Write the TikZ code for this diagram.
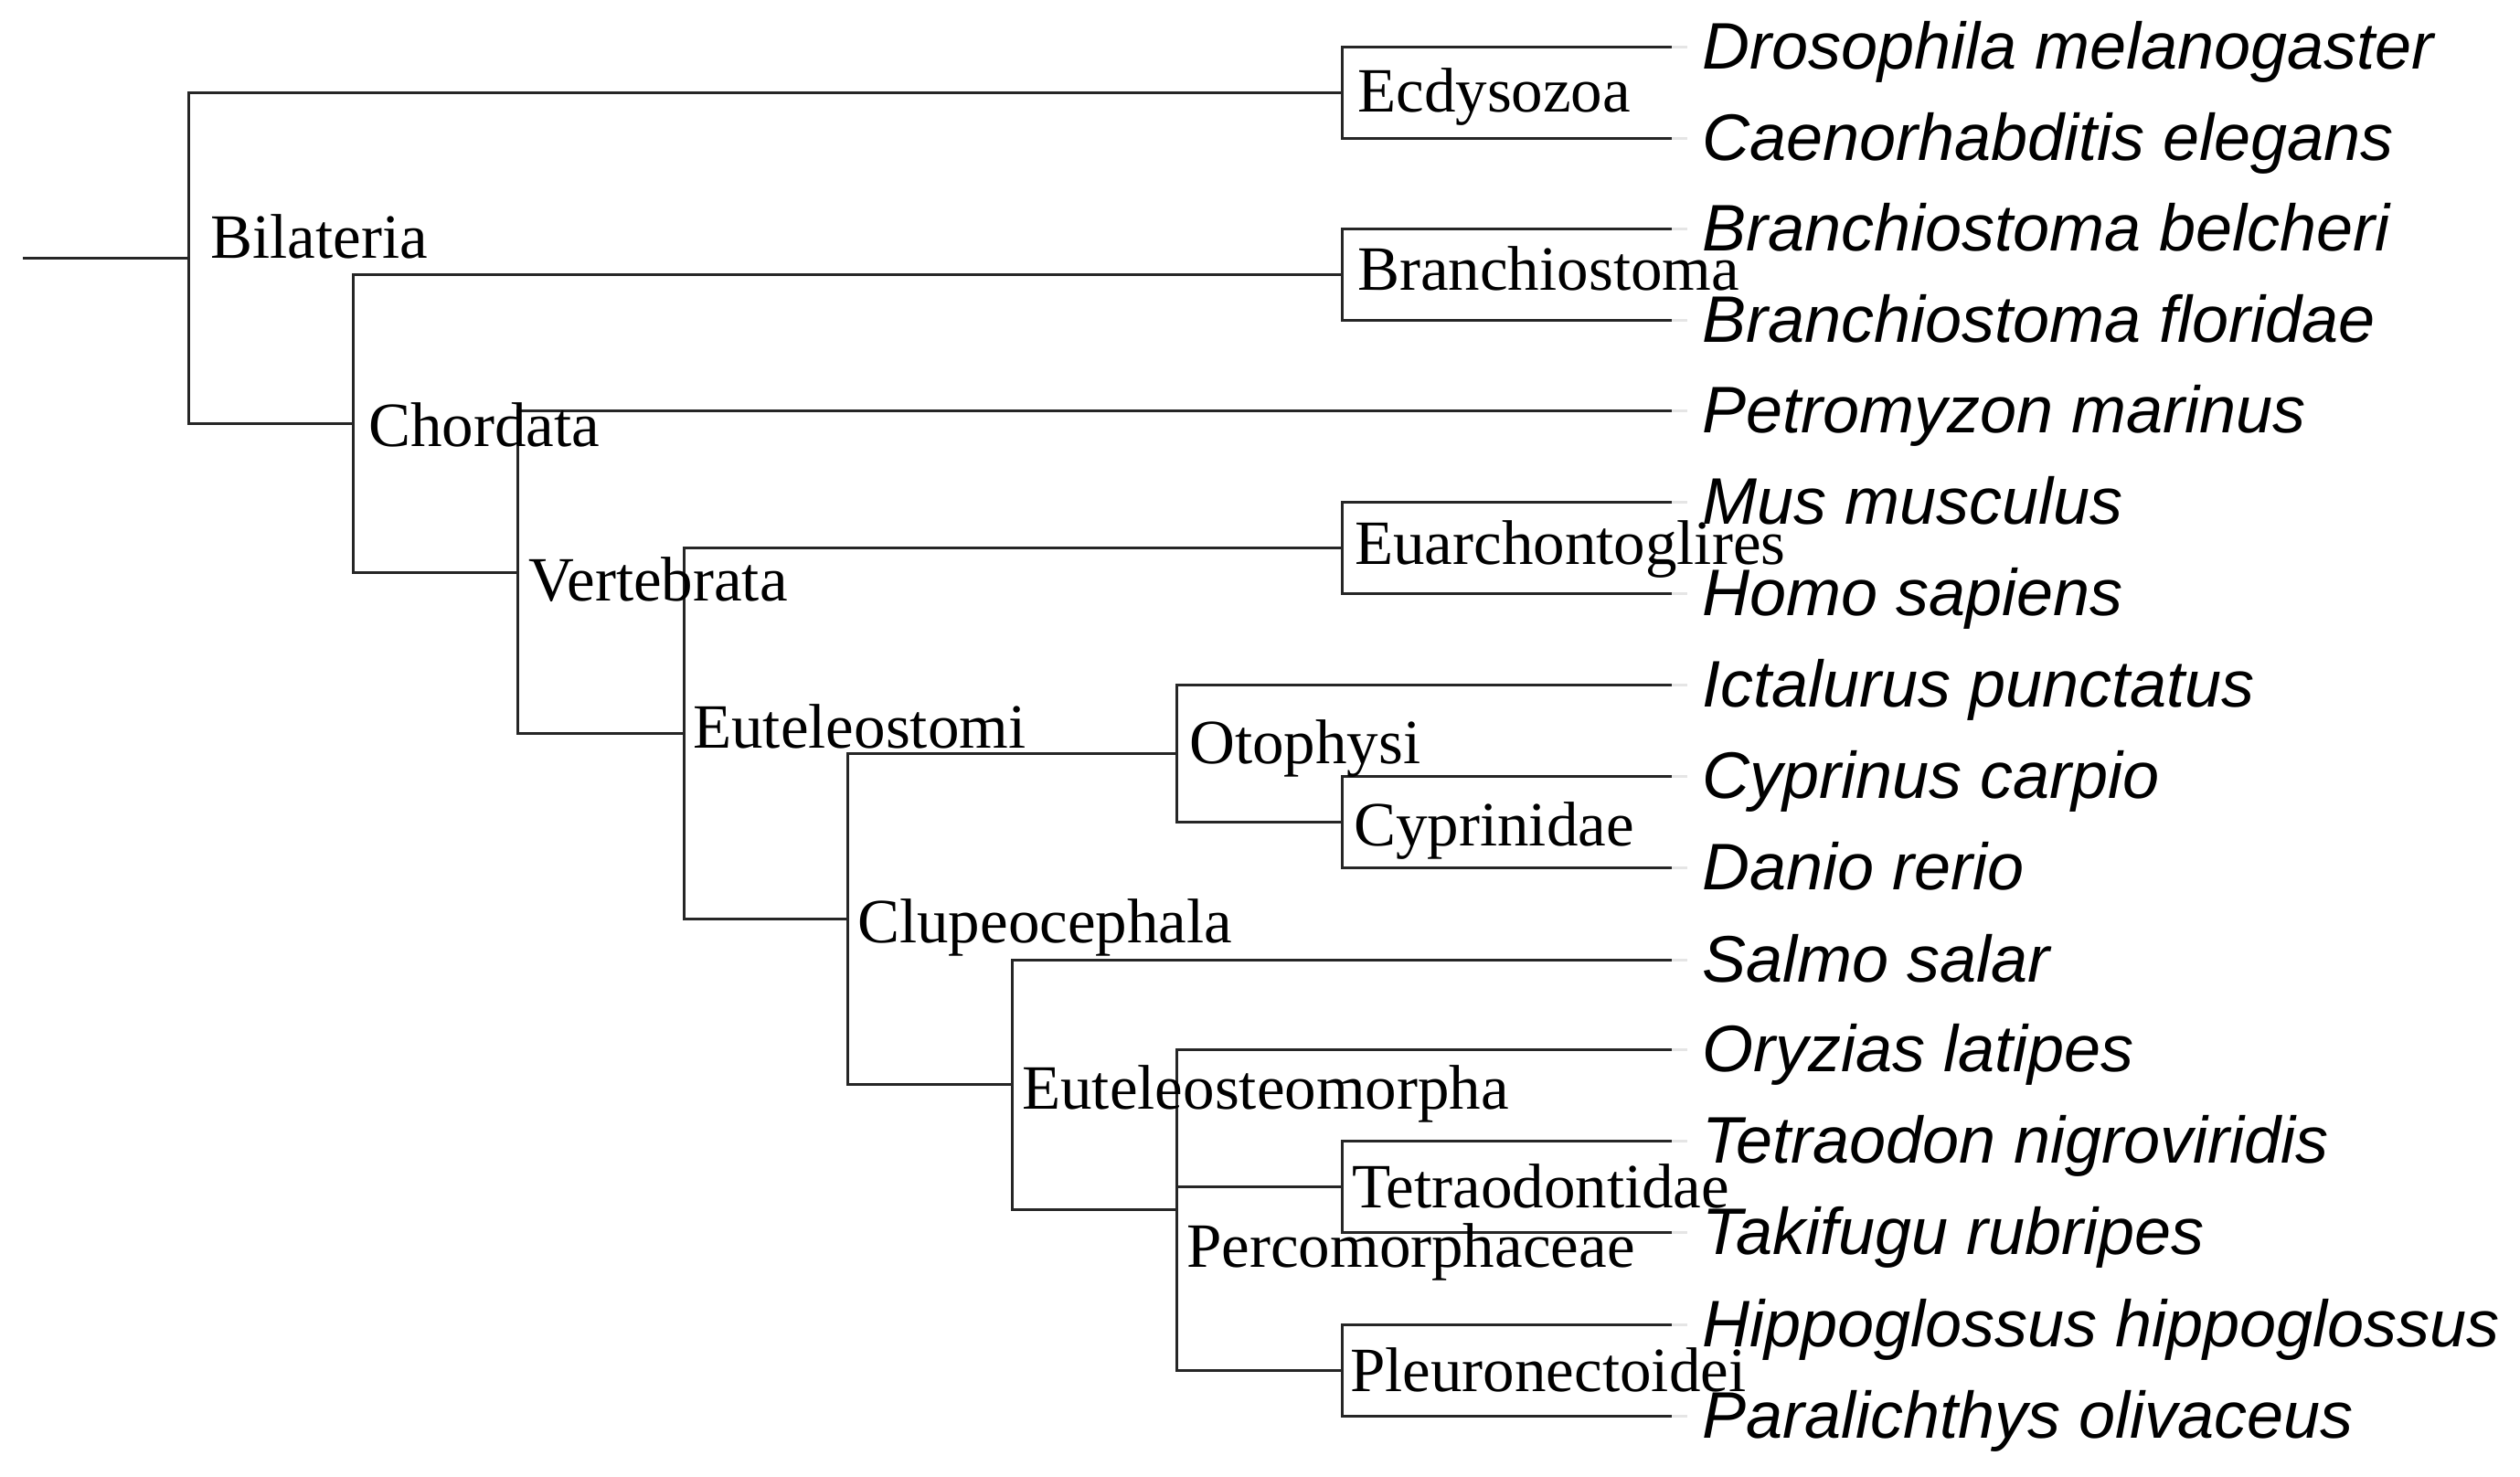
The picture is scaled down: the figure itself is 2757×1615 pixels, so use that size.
\documentclass[tikz,border=0pt]{standalone}
\usepackage{fontspec}
\setmainfont{Liberation Serif}
\newfontfamily\spfont{Liberation Sans}
\begin{document}
\begin{tikzpicture}[x=1pt,y=-1pt,
  br/.style={line width=3pt, draw=black!85, line join=miter},
  lead/.style={line width=3pt, draw=black!10},
  clade/.style={anchor=base west, inner sep=0pt, font=\fontsize{69}{80}\selectfont},
  sp/.style={anchor=base west, inner sep=0pt, font=\spfont\itshape\fontsize{72}{84}\selectfont}]
\useasboundingbox (0,0) rectangle (2757,1615);
% tips
\coordinate (t0) at (1829,51);
\coordinate (t1) at (1829,151);
\coordinate (t2) at (1829,250.5);
\coordinate (t3) at (1829,350.5);
\coordinate (t4) at (1829,449.5);
\coordinate (t5) at (1829,549.5);
\coordinate (t6) at (1829,649.5);
\coordinate (t7) at (1829,749);
\coordinate (t8) at (1829,849);
\coordinate (t9) at (1829,949);
\coordinate (t10) at (1829,1050);
\coordinate (t11) at (1829,1148);
\coordinate (t12) at (1829,1248);
\coordinate (t13) at (1829,1348);
\coordinate (t14) at (1829,1449);
\coordinate (t15) at (1829,1549);
% internal nodes
\coordinate (Ecd) at (1468,101);
\coordinate (Bra) at (1468,300.5);
\coordinate (Eua) at (1468,599.5);
\coordinate (Cyp) at (1468,899);
\coordinate (Tet) at (1468,1298);
\coordinate (Ple) at (1468,1499);
\coordinate (Oto) at (1287,824);
\coordinate (Per) at (1287,1323.5);
\coordinate (Eum) at (1107,1186.75);
\coordinate (Clu) at (927,1005.4);
\coordinate (Eut) at (748,802.45);
\coordinate (Ver) at (566,626);
\coordinate (Cho) at (386,463.25);
\coordinate (Bil) at (206,282.1);
\coordinate (root) at (25,282.1);
% branches
\draw[br] (root) -- (Bil);
\draw[br] (Bil) |- (Ecd);
\draw[br] (Bil) |- (Cho);
\draw[br] (Ecd) |- (t0);
\draw[br] (Ecd) |- (t1);
\draw[br] (Cho) |- (Bra);
\draw[br] (Cho) |- (Ver);
\draw[br] (Bra) |- (t2);
\draw[br] (Bra) |- (t3);
\draw[br] (Ver) |- (t4);
\draw[br] (Ver) |- (Eut);
\draw[br] (Eut) |- (Eua);
\draw[br] (Eut) |- (Clu);
\draw[br] (Eua) |- (t5);
\draw[br] (Eua) |- (t6);
\draw[br] (Clu) |- (Oto);
\draw[br] (Clu) |- (Eum);
\draw[br] (Oto) |- (t7);
\draw[br] (Oto) |- (Cyp);
\draw[br] (Cyp) |- (t8);
\draw[br] (Cyp) |- (t9);
\draw[br] (Eum) |- (t10);
\draw[br] (Eum) |- (Per);
\draw[br] (Per) |- (t11);
\draw[br] (Per) |- (Tet);
\draw[br] (Per) |- (Ple);
\draw[br] (Tet) |- (t12);
\draw[br] (Tet) |- (t13);
\draw[br] (Ple) |- (t14);
\draw[br] (Ple) |- (t15);
% faint leaders
\foreach \i in {0,...,15} \draw[lead] (t\i) -- ++(17,0);
% clade labels
\node[clade] (lBil) at (230,282) {Bilateria};
\node[clade] (lCho) at (403,488) {Chordata};
\node[clade] (lVer) at (578,657) {Vertebrata};
\node[clade] (lEut) at (758,818) {Euteleostomi};
\node[clade] (lClu) at (938,1031) {Clupeocephala};
\node[clade] (lEum) at (1118,1213) {Euteleosteomorpha};
\node[clade] (lOto) at (1301,835) {Otophysi};
\node[clade] (lPer) at (1298,1386) {Percomorphaceae};
\node[clade] (lEcd) at (1485,122) {Ecdysozoa};
\node[clade] (lBra) at (1485,317) {Branchiostoma};
\node[clade] (lEua) at (1482,617) {Euarchontoglires};
\node[clade] (lCyp) at (1481,925) {Cyprinidae};
\node[clade] (lTet) at (1479,1321) {Tetraodontidae};
\node[clade] (lPle) at (1477,1522) {Pleuronectoidei};
% species labels
\node[sp] (s0) at (1862,75) {Drosophila melanogaster};
\node[sp] (s1) at (1862,175) {Caenorhabditis elegans};
\node[sp] (s2) at (1862,274.5) {Branchiostoma belcheri};
\node[sp] (s3) at (1862,374.5) {Branchiostoma floridae};
\node[sp] (s4) at (1862,473.5) {Petromyzon marinus};
\node[sp] (s5) at (1862,573.5) {Mus musculus};
\node[sp] (s6) at (1862,673.5) {Homo sapiens};
\node[sp] (s7) at (1862,773) {Ictalurus punctatus};
\node[sp] (s8) at (1862,873) {Cyprinus carpio};
\node[sp] (s9) at (1862,973) {Danio rerio};
\node[sp] (s10) at (1862,1074) {Salmo salar};
\node[sp] (s11) at (1862,1172) {Oryzias latipes};
\node[sp] (s12) at (1862,1272) {Tetraodon nigroviridis};
\node[sp] (s13) at (1862,1372) {Takifugu rubripes};
\node[sp] (s14) at (1862,1473) {Hippoglossus hippoglossus};
\node[sp] (s15) at (1862,1573) {Paralichthys olivaceus};
\end{tikzpicture}
\end{document}
